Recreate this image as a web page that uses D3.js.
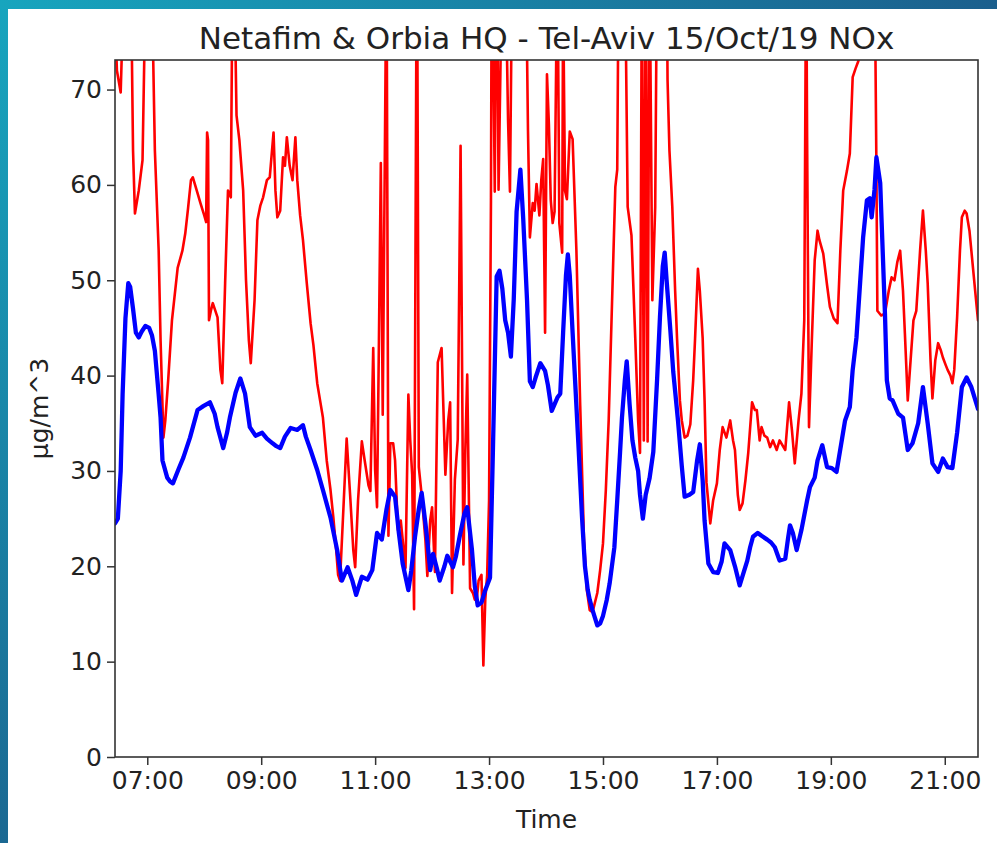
<!DOCTYPE html>
<html>
<head>
<meta charset="utf-8">
<script src="https://cdn.jsdelivr.net/npm/d3@7/dist/d3.min.js"></script>
<style>
  body { margin: 0; background: #ffffff; }
  svg { display: block; font-family: "DejaVu Sans", sans-serif; }
</style>
</head>
<body>
<svg id="chart" width="997" height="843"></svg>
<script>
// ---------------- data ----------------
const chartTitle = "Netafim & Orbia HQ - Tel-Aviv 15/Oct/19 NOx";
const xAxisLabel = "Time";
const yAxisLabel = "μg/m^3";
const xTickLabels = ["07:00", "09:00", "11:00", "13:00", "15:00", "17:00", "19:00", "21:00"];
const yTicks = [0, 10, 20, 30, 40, 50, 60, 70];
const yMax = 73.1;
const timeStart = "06:26";
const timeEnd = "21:35";

// red series (values above the top of the axis are clipped)
const redSeries = [
  ["06:26",78],["06:28",72],["06:32",69.7],["06:35",80],["06:40",85],["06:43",80],["06:45",63.6],["06:47",57.0],
  ["06:51",59.4],["06:55",62.6],["06:58",80],["07:01",90],["07:05",80],["07:08",63.6],["07:12",53.1],["07:14",43.7],
  ["07:17",33.5],["07:19",35.3],["07:22",39.5],["07:26",45.8],["07:32",51.3],["07:37",53.1],["07:40",54.9],["07:43",57.6],
  ["07:46",60.5],["07:48",60.8],["07:53",59.1],["07:56",58.1],["08:00",56.8],["08:02",56.1],["08:03",65.5],["08:04",64.7],
  ["08:05",45.8],["08:07",46.8],["08:09",47.6],["08:14",46.1],["08:17",40.6],["08:19",39.2],["08:22",49.7],["08:25",59.4],
  ["08:28",58.7],["08:30",85],["08:32",80],["08:34",67.3],["08:37",64.7],["08:41",59.4],["08:44",50.0],["08:47",43.7],
  ["08:49",41.3],["08:53",47.9],["08:56",56.3],["08:59",57.8],["09:02",58.7],["09:06",60.5],["09:09",60.8],["09:13",65.5],
  ["09:15",59.4],["09:17",56.6],["09:20",57.3],["09:23",62.9],["09:25",62.0],["09:27",65.0],["09:30",62.0],["09:33",60.5],
  ["09:36",65.0],["09:38",60.5],["09:41",56.8],["09:44",54.2],["09:48",49.7],["09:52",45.5],["09:55",43.2],["09:59",39.2],
  ["10:02",37.4],["10:05",35.6],["10:09",31.1],["10:13",28.0],["10:16",25.1],["10:19",21.7],["10:21",19.1],["10:23",18.5],
  ["10:26",24.8],["10:30",33.4],["10:34",26.9],["10:37",21.7],["10:39",19.9],["10:42",26.9],["10:46",33.1],["10:49",31.1],
  ["10:53",28.5],["10:55",27.9],["10:58",42.9],["11:00",30.1],["11:02",26.2],["11:04",43.7],["11:06",62.3],["11:08",35.9],
  ["11:12",85],["11:14",23.2],["11:16",32.9],["11:19",32.9],["11:21",31.1],["11:24",23.8],["11:27",24.8],["11:32",19.8],
  ["11:35",38.0],["11:37",33.2],["11:39",29.6],["11:41",15.5],["11:44",90],["11:46",30.4],["11:49",27.5],["11:53",22.7],
  ["11:55",19.0],["11:58",24.8],["12:00",26.2],["12:03",19.4],["12:06",41.4],["12:10",42.9],["12:14",29.6],["12:17",35.3],
  ["12:19",37.2],["12:21",17.2],["12:24",29.1],["12:27",33.3],["12:30",64.1],["12:33",20.2],["12:35",32.2],["12:37",40.1],
  ["12:40",17.7],["12:43",17.2],["12:45",16.5],["12:47",16.5],["12:49",18.5],["12:52",19.1],["12:54",9.6],["12:56",16.5],
  ["12:58",19.1],["13:00",26.9],["13:02",58.4],["13:03",90],["13:06",59.3],["13:08",90],["13:10",59.5],["13:14",85],
  ["13:17",85],["13:20",66.8],["13:22",59.3],["13:25",90],["13:29",85],["13:34",85],["13:38",90],["13:41",65.7],
  ["13:43",54.5],["13:46",58.1],["13:48",57.3],["13:50",60.1],["13:53",56.8],["13:55",60.5],["13:57",62.7],["13:59",44.5],
  ["14:01",71.6],["14:03",66.4],["14:05",58.4],["14:07",56.0],["14:09",57.2],["14:12",85],["14:14",56.0],["14:17",52.9],
  ["14:18",80],["14:20",59.4],["14:22",58.5],["14:25",65.6],["14:28",64.8],["14:32",53.1],["14:36",36.9],["14:40",22.7],
  ["14:43",17.5],["14:46",15.4],["14:49",15.2],["14:54",17.2],["14:57",19.6],["15:00",22.4],["15:03",28.0],["15:06",35.3],
  ["15:09",45.8],["15:13",59.8],["15:15",61.6],["15:17",90],["15:20",85],["15:23",85],["15:26",57.7],["15:30",54.7],
  ["15:34",43.9],["15:37",35.3],["15:39",31.9],["15:41",85],["15:43",33.2],["15:45",85],["15:47",33.1],["15:49",85],
  ["15:52",47.9],["15:55",57.7],["15:57",85],["16:00",90],["16:04",90],["16:07",85],["16:08",71.0],["16:10",63.6],
  ["16:13",57.7],["16:16",48.9],["16:18",43.9],["16:21",37.4],["16:23",35.3],["16:26",33.5],["16:29",33.7],["16:32",34.9],
  ["16:35",39.5],["16:37",43.9],["16:40",51.2],["16:42",48.9],["16:45",43.9],["16:47",37.4],["16:49",28.8],["16:53",24.5],
  ["16:56",26.9],["17:00",28.7],["17:03",32.2],["17:06",34.6],["17:10",33.5],["17:14",35.3],["17:17",33.2],["17:19",32.2],
  ["17:22",27.5],["17:24",25.9],["17:27",26.6],["17:30",29.0],["17:33",31.9],["17:37",37.2],["17:40",36.4],["17:42",36.4],
  ["17:45",33.2],["17:47",34.6],["17:50",33.7],["17:53",33.5],["17:56",32.5],["17:59",33.2],["18:03",32.2],["18:06",33.2],
  ["18:12",32.2],["18:16",37.2],["18:19",34.3],["18:22",30.8],["18:26",35.3],["18:29",38.1],["18:32",45.8],["18:34",85],
  ["18:35",65.0],["18:37",34.6],["18:40",43.7],["18:43",52.1],["18:46",55.2],["18:48",54.2],["18:52",52.8],["18:56",49.5],
  ["18:59",47.2],["19:03",46.0],["19:07",45.5],["19:10",53.1],["19:13",59.4],["19:17",61.5],["19:20",63.3],["19:23",71.3],
  ["19:26",72.2],["19:29",73.0],["19:33",78],["19:38",80],["19:43",80],["19:46",85],["19:48",61.8],["19:49",46.8],
  ["19:53",46.3],["19:57",46.5],["20:01",48.9],["20:04",50.3],["20:07",50.0],["20:10",51.9],["20:13",53.1],["20:16",48.9],
  ["20:18",44.4],["20:21",37.4],["20:24",41.6],["20:27",45.8],["20:30",46.8],["20:34",53.1],["20:37",57.3],["20:40",53.1],
  ["20:42",49.7],["20:45",41.6],["20:47",37.6],["20:50",41.6],["20:53",43.4],["20:56",42.6],["20:58",41.9],["21:01",41.1],
  ["21:03",40.6],["21:06",40.0],["21:08",39.2],["21:10",40.6],["21:13",46.1],["21:16",53.1],["21:18",56.6],["21:21",57.3],
  ["21:23",57.0],["21:26",55.2],["21:28",53.1],["21:32",48.9],["21:35",45.8]
];

// blue series
const blueSeries = [
  ["06:26",24.5],["06:29",25.0],["06:32",30.0],["06:34",38.0],["06:37",46.0],["06:40",49.7],["06:42",49.3],["06:45",47.0],
  ["06:48",44.5],["06:51",44.0],["06:54",44.6],["06:58",45.2],["07:02",45.0],["07:05",44.2],["07:08",42.6],["07:12",38.0],
  ["07:14",35.6],["07:16",31.1],["07:21",29.3],["07:24",28.9],["07:27",28.7],["07:33",30.2],["07:38",31.4],["07:45",33.5],
  ["07:53",36.4],["07:59",36.8],["08:06",37.2],["08:11",36.0],["08:14",34.6],["08:20",32.4],["08:24",34.0],["08:27",35.6],
  ["08:33",38.2],["08:38",39.7],["08:43",38.1],["08:48",34.6],["08:54",33.7],["09:01",34.0],["09:06",33.4],["09:12",32.9],
  ["09:16",32.6],["09:20",32.4],["09:25",33.6],["09:31",34.5],["09:38",34.3],["09:44",34.8],["09:47",33.6],["09:52",32.2],
  ["09:59",30.1],["10:05",28.0],["10:13",25.1],["10:20",21.7],["10:25",18.5],["10:31",19.9],["10:36",18.5],["10:40",17.0],
  ["10:46",18.9],["10:52",18.6],["10:57",19.6],["11:02",23.5],["11:07",22.8],["11:12",26.0],["11:16",28.0],["11:21",27.3],
  ["11:25",23.5],["11:29",20.3],["11:35",17.5],["11:38",19.5],["11:42",23.1],["11:46",26.0],["11:49",27.7],["11:53",24.5],
  ["11:55",22.6],["11:58",19.6],["12:01",21.3],["12:05",19.8],["12:08",18.5],["12:13",20.0],["12:16",21.1],["12:19",20.5],
  ["12:22",19.9],["12:25",21.0],["12:29",23.1],["12:34",25.5],["12:37",26.2],["12:40",23.5],["12:42",21.7],["12:45",17.9],
  ["12:48",15.9],["12:52",16.2],["12:56",17.5],["13:01",18.8],["13:04",31.9],["13:08",50.4],["13:11",51.0],["13:14",49.1],
  ["13:17",45.8],["13:20",44.5],["13:23",42.0],["13:26",48.0],["13:29",57.2],["13:33",61.6],["13:36",56.4],["13:40",47.9],
  ["13:43",39.4],["13:46",38.8],["13:49",39.8],["13:54",41.3],["13:59",40.5],["14:02",39.0],["14:06",36.3],["14:12",37.7],
  ["14:15",38.1],["14:18",44.5],["14:21",50.5],["14:23",52.7],["14:25",50.5],["14:28",44.5],["14:34",33.0],["14:38",25.0],
  ["14:41",20.0],["14:44",17.5],["14:46",16.5],["14:49",15.4],["14:54",13.8],["14:57",14.0],["15:00",14.8],["15:04",16.5],
  ["15:07",18.2],["15:12",22.0],["15:15",26.9],["15:18",32.0],["15:20",35.6],["15:23",39.5],["15:25",41.5],["15:28",37.0],
  ["15:31",33.2],["15:34",31.4],["15:37",30.0],["15:39",27.5],["15:42",25.0],["15:45",27.5],["15:49",29.2],["15:53",32.0],
  ["15:57",39.6],["16:00",46.1],["16:03",51.5],["16:05",52.9],["16:07",50.0],["16:11",44.7],["16:14",40.4],["16:19",35.3],
  ["16:23",30.5],["16:26",27.3],["16:31",27.5],["16:35",27.8],["16:39",31.0],["16:42",32.8],["16:45",29.0],["16:47",24.8],
  ["16:51",20.3],["16:56",19.4],["17:01",19.3],["17:05",20.5],["17:08",22.4],["17:14",21.7],["17:19",20.0],["17:24",18.0],
  ["17:28",19.3],["17:32",20.6],["17:35",22.0],["17:38",23.1],["17:43",23.5],["17:47",23.2],["17:53",22.8],["17:57",22.5],
  ["18:01",22.0],["18:06",20.6],["18:12",20.8],["18:15",23.0],["18:17",24.3],["18:20",23.5],["18:24",21.7],["18:29",23.8],
  ["18:35",26.9],["18:38",28.3],["18:43",29.3],["18:46",31.1],["18:51",32.7],["18:56",30.4],["19:01",30.3],["19:06",29.9],
  ["19:12",33.5],["19:15",35.3],["19:20",36.7],["19:23",40.6],["19:27",44.0],["19:31",50.0],["19:34",54.5],["19:38",58.4],
  ["19:41",58.6],["19:43",56.6],["19:46",59.5],["19:48",62.9],["19:52",60.2],["19:55",52.0],["19:57",46.5],["19:59",39.5],
  ["20:02",37.6],["20:05",37.4],["20:11",36.0],["20:16",35.6],["20:21",32.2],["20:26",32.9],["20:32",35.0],["20:37",38.8],
  ["20:42",35.0],["20:47",30.8],["20:53",29.9],["20:58",31.3],["21:03",30.4],["21:08",30.3],["21:13",34.0],["21:18",38.8],
  ["21:23",39.8],["21:28",38.8],["21:35",36.5]
];

// ---------------- drawing ----------------
const W = 997, H = 843;
const plot = { left: 115, right: 978, top: 60, bottom: 757 };
const parseT = d3.timeParse("%H:%M");
const fmtT = d3.timeFormat("%H:%M");

const svg = d3.select("#chart");

// decorative frame (slide border)
const defs = svg.append("defs");
const gLeft = defs.append("linearGradient").attr("id", "gLeft").attr("x1", 0).attr("y1", 0).attr("x2", 0).attr("y2", 1);
gLeft.append("stop").attr("offset", 0).attr("stop-color", "#17a5be");
gLeft.append("stop").attr("offset", 1).attr("stop-color", "#1b6892");
const gTop = defs.append("linearGradient").attr("id", "gTop").attr("x1", 0).attr("y1", 0).attr("x2", 1).attr("y2", 0);
gTop.append("stop").attr("offset", 0).attr("stop-color", "#17a5be");
gTop.append("stop").attr("offset", 1).attr("stop-color", "#1b5f8d");
defs.append("clipPath").attr("id", "plotClip").append("rect")
  .attr("x", plot.left).attr("y", plot.top)
  .attr("width", plot.right - plot.left).attr("height", plot.bottom - plot.top);

svg.append("rect").attr("width", W).attr("height", H).attr("fill", "#ffffff");
svg.append("rect").attr("x", 0).attr("y", 0).attr("width", 8).attr("height", H).attr("fill", "url(#gLeft)");
svg.append("rect").attr("x", 0).attr("y", 0).attr("width", W).attr("height", 9).attr("fill", "url(#gTop)");

const x = d3.scaleTime()
  .domain([parseT(timeStart), parseT(timeEnd)])
  .range([plot.left, plot.right]);
const y = d3.scaleLinear()
  .domain([0, yMax])
  .range([plot.bottom, plot.top]);

const line = d3.line()
  .x(d => x(parseT(d[0])))
  .y(d => y(d[1]));

const lines = svg.append("g").attr("clip-path", "url(#plotClip)");
lines.append("path").datum(redSeries)
  .attr("d", line).attr("fill", "none")
  .attr("stroke", "#ff0000").attr("stroke-width", 2.6)
  .attr("stroke-linejoin", "round").attr("stroke-linecap", "round");
lines.append("path").datum(blueSeries)
  .attr("d", line).attr("fill", "none")
  .attr("stroke", "#0000ff").attr("stroke-width", 4.3)
  .attr("stroke-linejoin", "round").attr("stroke-linecap", "round");

// axes
const xAxis = d3.axisBottom(x)
  .tickValues(xTickLabels.map(parseT))
  .tickFormat(fmtT)
  .tickSizeInner(8).tickSizeOuter(0).tickPadding(6);
const yAxis = d3.axisLeft(y)
  .tickValues(yTicks)
  .tickSizeInner(8).tickSizeOuter(0).tickPadding(5);

const gx = svg.append("g").attr("transform", `translate(0,${plot.bottom})`).call(xAxis);
const gy = svg.append("g").attr("transform", `translate(${plot.left},0)`).call(yAxis);
[gx, gy].forEach(g => {
  g.select(".domain").remove();
  g.selectAll(".tick line").attr("stroke", "#333").attr("stroke-width", 1.5);
  g.selectAll(".tick text").attr("fill", "#222").style("font-size", "25px")
    .style("font-family", "'DejaVu Sans', sans-serif");
});

// frame (spines)
svg.append("rect")
  .attr("x", plot.left).attr("y", plot.top)
  .attr("width", plot.right - plot.left).attr("height", plot.bottom - plot.top)
  .attr("fill", "none").attr("stroke", "#333").attr("stroke-width", 1.6);

// title & labels
svg.append("text")
  .attr("x", (plot.left + plot.right) / 2).attr("y", 49)
  .attr("text-anchor", "middle").attr("fill", "#222")
  .style("font-size", "31px")
  .text(chartTitle);
svg.append("text")
  .attr("x", (plot.left + plot.right) / 2).attr("y", 828)
  .attr("text-anchor", "middle").attr("fill", "#222")
  .style("font-size", "25px")
  .text(xAxisLabel);
svg.append("text")
  .attr("transform", `translate(48,${(plot.top + plot.bottom) / 2}) rotate(-90)`)
  .attr("text-anchor", "middle").attr("fill", "#222")
  .style("font-size", "25px")
  .text(yAxisLabel);
</script>
</body>
</html>
